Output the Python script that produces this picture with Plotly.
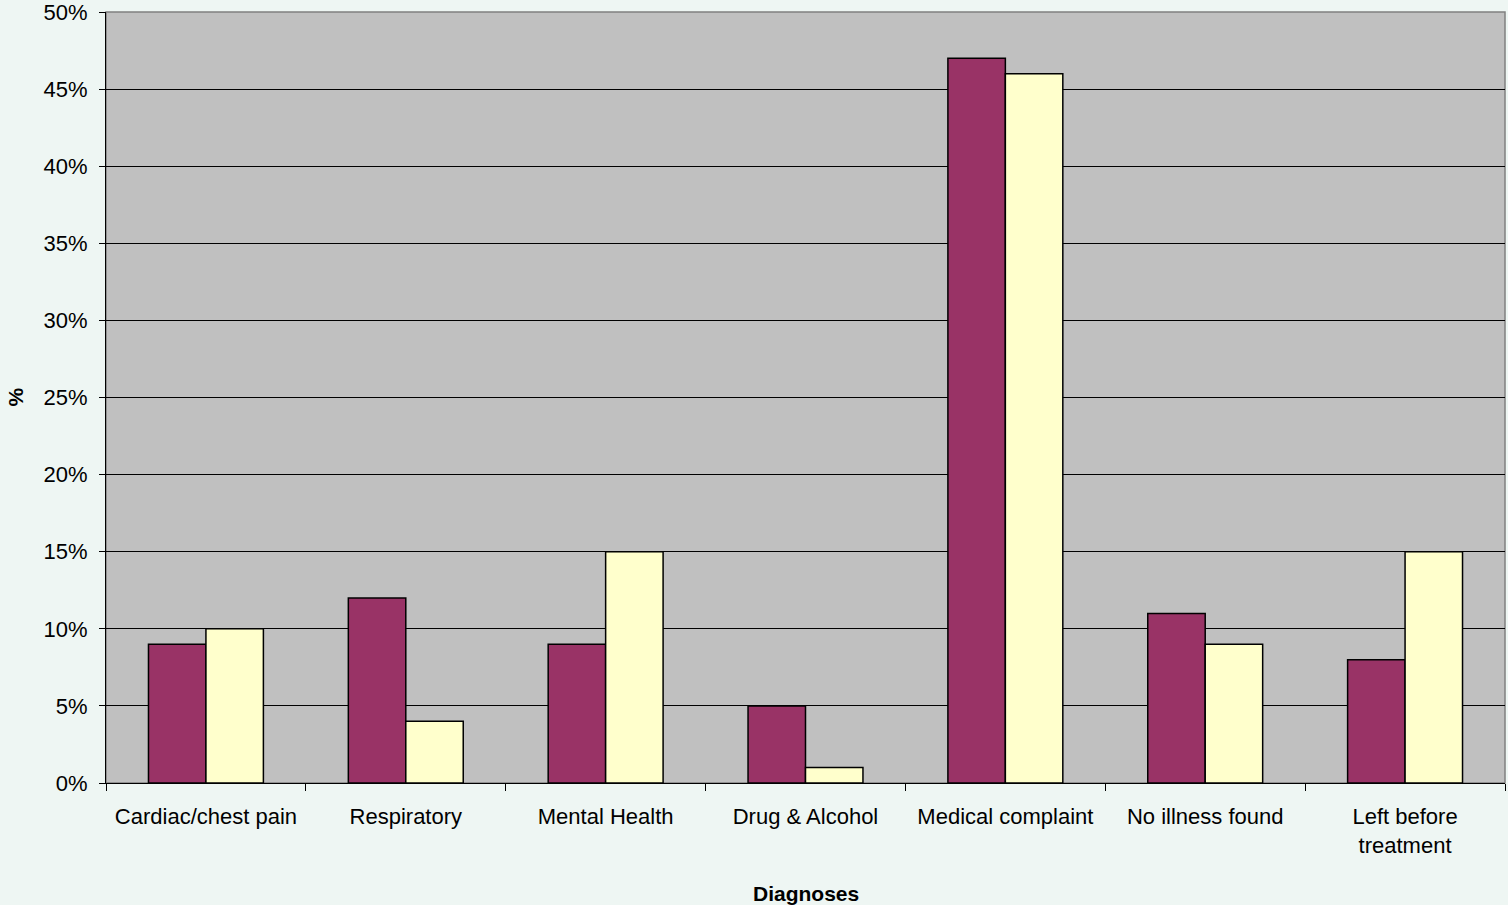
import plotly.graph_objects as go

categories = ["Cardiac/chest pain", "Respiratory", "Mental Health", "Drug & Alcohol",
              "Medical complaint", "No illness found", "Left before<br>treatment"]
series_a = [9, 12, 9, 5, 47, 11, 8]
series_b = [10, 4, 15, 1, 46, 9, 15]
y_ticks = [0, 5, 10, 15, 20, 25, 30, 35, 40, 45, 50]
y_tick_labels = [f"{v}%" for v in y_ticks]

FONT = "Liberation Sans, Arial, sans-serif"

fig = go.Figure()
fig.add_trace(go.Bar(x=categories, y=series_a, name="Series A",
                     marker=dict(color="#993366", line=dict(color="black", width=1.5))))
fig.add_trace(go.Bar(x=categories, y=series_b, name="Series B",
                     marker=dict(color="#FFFFCC", line=dict(color="black", width=1.5))))

fig.update_layout(
    width=1508, height=905,
    margin=dict(l=106, r=3, t=12, b=122),
    paper_bgcolor="#EEF6F3",
    plot_bgcolor="#C0C0C0",
    barmode="group", bargap=0.425, bargroupgap=0,
    showlegend=False,
    font=dict(family=FONT, size=22, color="black"),
    xaxis=dict(type="category", tickson="boundaries", ticks="outside", ticklen=7,
               tickcolor="black", showline=True, linecolor="black", linewidth=1,
               showgrid=False, tickfont=dict(size=22), ticklabelstandoff=14,
               automargin=False),
    yaxis=dict(range=[0, 50], tickvals=y_ticks, ticktext=y_tick_labels,
               ticks="outside", ticklen=6, tickcolor="black",
               showline=True, linecolor="black", linewidth=1,
               showgrid=True, gridcolor="black", gridwidth=1,
               zeroline=False, tickfont=dict(size=22), ticklabelstandoff=7,
               ticklabeloverflow="allow", automargin=False),
    shapes=[dict(type="rect", xref="paper", yref="paper", x0=0, x1=1, y0=0, y1=1,
                 line=dict(color="#808080", width=1.5), layer="below")],
    annotations=[
        dict(text="<b>Diagnoses</b>", xref="paper", yref="paper", x=0.5, y=-0.1435,
             yanchor="middle", showarrow=False, font=dict(size=21, family=FONT)),
        dict(text="<b>%</b>", xref="paper", yref="paper", x=-0.065, y=0.5,
             xanchor="center", yanchor="middle", textangle=-90, showarrow=False,
             font=dict(size=21, family=FONT)),
    ],
)

fig.write_html("out.html", config={"displayModeBar": False},
               post_script="document.body.style.margin='0';document.body.style.overflow='hidden';")
